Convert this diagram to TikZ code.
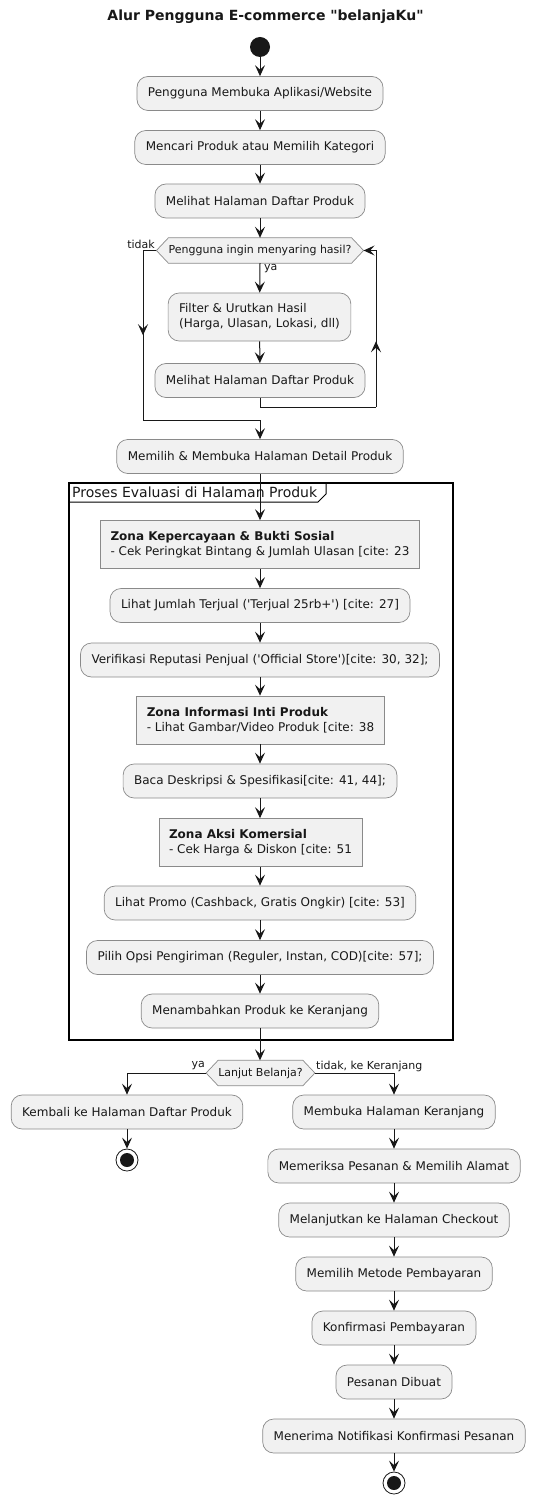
\documentclass[tikz,border=0pt]{standalone}
\usepackage{fontspec}
\setmainfont{DejaVu Sans}[Ligatures=TeXOff]
\usetikzlibrary{arrows.meta,decorations.markings,calc}
\definecolor{boxfill}{HTML}{F1F1F1}
\definecolor{boxline}{HTML}{8A8A8A}
\definecolor{ink}{HTML}{181818}
\pgfdeclarelayer{background}
\pgfsetlayers{background,main}
\begin{document}
\begin{tikzpicture}[x=1pt,y=-1pt,
  every node/.style={text=ink},
  act/.style={draw=boxline, line width=0.7pt, fill=boxfill, rounded corners=11pt,
    minimum height=34pt, inner xsep=11pt, font=\fontsize{12}{15}\selectfont},
  zone/.style={draw=boxline, line width=0.7pt, fill=boxfill, minimum height=48pt,
    inner xsep=10pt, align=left, font=\fontsize{12}{15}\selectfont},
  dectext/.style={inner xsep=0pt, minimum height=25pt, font=\fontsize{11}{13}\selectfont},
  hexa/.style={draw=boxline, line width=0.7pt, fill=boxfill},
  flow/.style={draw=ink, line width=1pt},
  arr/.style={flow, -{Stealth[length=11pt,width=10pt,inset=4.5pt]}},
  midarr/.style={flow, postaction={decorate}, decoration={markings,
    mark=at position #1 with {\arrow{Stealth[length=11pt,width=10pt,inset=4.5pt]}}}},
  lbl/.style={font=\fontsize{11}{13}\selectfont, inner sep=0pt},
  endnode/.style={circle, draw=ink, line width=0.8pt, fill=white, minimum size=22pt, inner sep=0pt},
]
\begin{pgfonlayer}{background}
\fill[white] (0,0) rectangle (549,1503);
\end{pgfonlayer}
\useasboundingbox (0,0) rectangle (549,1503);

% title
\node[font=\bfseries\fontsize{14}{17}\selectfont] (title) at (265.5,17) {Alur Pengguna E-commerce "belanjaKu"};

% start
\node[circle, fill=ink, minimum size=20pt, inner sep=0pt] (start) at (260,47) {};

\node[act] (b1) at (260,93.5) {Pengguna Membuka Aplikasi/Website};
\node[act] (b2) at (260,147.5) {Mencari Produk atau Memilih Kategori};
\node[act] (b3) at (260,201) {Melihat Halaman Daftar Produk};

% decision 1
\node[dectext] (d1) at (260,250.5) {Pengguna ingin menyaring hasil?};
\coordinate (d1w) at ([xshift=-12pt]d1.west);
\coordinate (d1e) at ([xshift=12pt]d1.east);
\begin{pgfonlayer}{background}
\draw[hexa] (d1.north west) -- (d1.north east) -- (d1e) -- (d1.south east) -- (d1.south west) -- (d1w) -- cycle;
\end{pgfonlayer}
\node[lbl, anchor=east] (ltidak) at (155,244) {tidak};
\node[lbl, anchor=west] (lya) at (264,269) {ya};

\node[act, align=left, minimum height=48pt] (filter) at (259.5,317) {Filter \& Urutkan Hasil\\(Harga, Ulasan, Lokasi, dll)};
\node[act] (b4) at (260,380.5) {Melihat Halaman Daftar Produk};
\node[act] (detail) at (260,456.5) {Memilih \& Membuka Halaman Detail Produk};

% frame
\draw[line width=1.6pt, draw=black] (69,483) rectangle (453,1040);
\draw[line width=1pt, draw=black] (69,502) -- (318,502) -- (326,494) -- (326,483);
\node[font=\fontsize{14}{17}\selectfont, anchor=west, inner sep=0pt] (ftitle) at (72,492) {Proses Evaluasi di Halaman Produk};

\node[zone] (z1) at (260,544.5) {\textbf{Zona Kepercayaan \& Bukti Sosial}\\- Cek Peringkat Bintang \& Jumlah Ulasan [cite: 23};
\node[act] (jumlah) at (260,605.5) {Lihat Jumlah Terjual ('Terjual 25rb+') [cite: 27]};
\node[act] (verif) at (260,660) {Verifikasi Reputasi Penjual ('Official Store')[cite: 30, 32];};
\node[zone] (z2) at (260.5,720) {\textbf{Zona Informasi Inti Produk}\\- Lihat Gambar/Video Produk [cite: 38};
\node[act] (baca) at (260,781) {Baca Deskripsi \& Spesifikasi[cite: 41, 44];};
\node[zone] (z3) at (260.5,842.5) {\textbf{Zona Aksi Komersial}\\- Cek Harga \& Diskon [cite: 51};
\node[act] (promo) at (260,903) {Lihat Promo (Cashback, Gratis Ongkir) [cite: 53]};
\node[act] (pilih) at (260,957.5) {Pilih Opsi Pengiriman (Reguler, Instan, COD)[cite: 57];};
\node[act] (tambah) at (260,1011) {Menambahkan Produk ke Keranjang};

% decision 2
\node[dectext] (d2) at (260.5,1073) {Lanjut Belanja?};
\coordinate (d2w) at ([xshift=-12pt]d2.west);
\coordinate (d2e) at ([xshift=12pt]d2.east);
\begin{pgfonlayer}{background}
\draw[hexa] (d2.north west) -- (d2.north east) -- (d2e) -- (d2.south east) -- (d2.south west) -- (d2w) -- cycle;
\end{pgfonlayer}
\node[lbl, anchor=east] (lya2) at (205,1066) {ya};
\node[lbl, anchor=west] (ltidak2) at (316,1066) {tidak, ke Keranjang};

\node[act] (kembali) at (127,1112) {Kembali ke Halaman Daftar Produk};
\node[endnode] (end1) at (127,1160) {};
\fill[ink] (end1.center) circle (7pt);

\node[act] (keranjang) at (394,1112) {Membuka Halaman Keranjang};
\node[act] (periksa) at (394,1166) {Memeriksa Pesanan \& Memilih Alamat};
\node[act] (checkout) at (394,1220) {Melanjutkan ke Halaman Checkout};
\node[act] (metode) at (394,1274) {Memilih Metode Pembayaran};
\node[act] (konfirm) at (394,1328) {Konfirmasi Pembayaran};
\node[act] (dibuat) at (394,1382) {Pesanan Dibuat};
\node[act] (notif) at (394,1436) {Menerima Notifikasi Konfirmasi Pesanan};
\node[endnode] (end2) at (394,1483) {};
\fill[ink] (end2.center) circle (7pt);

% connectors
\draw[arr] (start) -- (b1);
\draw[arr] (b1) -- (b2);
\draw[arr] (b2) -- (b3);
\draw[arr] (b3) -- (d1.north);
\draw[arr] (d1.south) -- (filter);
\draw[arr] (filter) -- (b4);

\coordinate (lb) at (376,407);
\coordinate (lt) at (376,250.5);
\draw[flow] (b4.south) |- (lb);
\draw[midarr=0.42] (lb) -- (lt);
\draw[arr] (lt) -- (d1e);

\coordinate (tl) at (143,250.5);
\coordinate (tb) at (143,420);
\coordinate (tm) at (260,420);
\draw[flow] (d1w) -- (tl);
\draw[midarr=0.5] (tl) -- (tb);
\draw[flow] (tb) -- (tm);
\draw[arr] (tm) -- (detail.north);

\draw[arr] (detail) -- (z1.north -| detail);
\draw[arr] (z1.south -| jumlah) -- (jumlah);
\draw[arr] (jumlah) -- (verif);
\draw[arr] (verif) -- (z2.north -| verif);
\draw[arr] (z2.south -| baca) -- (baca);
\draw[arr] (baca) -- (z3.north -| baca);
\draw[arr] (z3.south -| promo) -- (promo);
\draw[arr] (promo) -- (pilih);
\draw[arr] (pilih) -- (tambah);
\draw[arr] (tambah) -- (d2.north -| tambah);

\draw[arr] (d2w) -| (kembali);
\draw[arr] (d2e) -| (keranjang);
\draw[arr] (kembali) -- (end1);
\draw[arr] (keranjang) -- (periksa);
\draw[arr] (periksa) -- (checkout);
\draw[arr] (checkout) -- (metode);
\draw[arr] (metode) -- (konfirm);
\draw[arr] (konfirm) -- (dibuat);
\draw[arr] (dibuat) -- (notif);
\draw[arr] (notif) -- (end2);
\end{tikzpicture}
\end{document}
